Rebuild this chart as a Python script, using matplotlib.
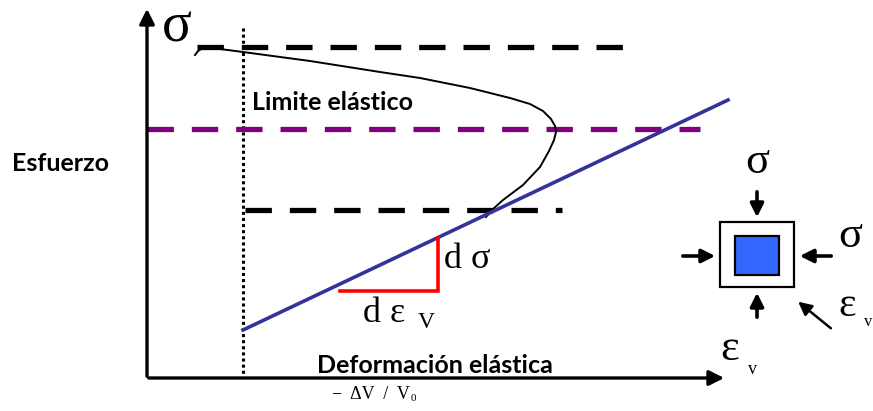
import matplotlib.pyplot as plt
from matplotlib.patches import Rectangle

# curva esfuerzo (coordenadas de la lamina, en px)
curve_x = [195, 198, 203, 212, 220, 243, 310, 380, 420, 470, 510, 530, 543, 551, 555, 556, 554, 549, 540, 523, 503, 492, 486]
curve_y = [55, 51, 48, 48, 49, 52, 61, 72, 78, 88, 98, 104, 111, 119, 126, 132, 140, 151, 167, 185, 200, 210, 217]

elastic_x = [243, 728]
elastic_y = [330, 100]

top_dash = [197, 640, 47]
mid_dash = [245, 562, 210]
purple_dash = [147, 700, 129]

tri_x = [340, 438, 438]
tri_y = [291, 291, 238]

fig = plt.figure(figsize=(8.73, 4.11), dpi=100)
ax = fig.add_axes([0, 0, 1, 1])
ax.set_xlim(0, 873)
ax.set_ylim(411, 0)
ax.axis('off')

serif = 'Liberation Serif'
bold = 'Lato'

# ejes
ax.annotate('', xy=(147, 6), xytext=(147, 379),
            arrowprops=dict(arrowstyle='-|>,head_length=0.9,head_width=0.45', lw=2.4, color='black'))
ax.annotate('', xy=(727, 378), xytext=(146, 378),
            arrowprops=dict(arrowstyle='-|>,head_length=0.9,head_width=0.45', lw=2.4, color='black'))

# lineas
ax.plot([243, 243], [28, 376], color='black', lw=2.2, linestyle=(0, (1, 1)))
ax.plot(top_dash[:2], [top_dash[2]] * 2, color='black', lw=3.8, linestyle=(0, (5, 3.4)))
ax.plot(mid_dash[:2], [mid_dash[2]] * 2, color='black', lw=3.8, linestyle=(0, (5, 3.4)))
ax.plot(purple_dash[:2], [purple_dash[2]] * 2, color='#800080', lw=3.8, linestyle=(0, (5, 3.4)))
ax.plot(curve_x, curve_y, color='black', lw=1.4, solid_joinstyle='round')
ax.plot(elastic_x, elastic_y, color='#333399', lw=2.6)
ax.plot(tri_x, tri_y, color='red', lw=2.6, solid_joinstyle='miter')

# textos
ax.text(162, 28, 'σ', fontsize=40, family=serif, va='center', ha='left')
ax.text(252, 102, 'Limite elástico', fontsize=18, family=bold, weight='bold', va='center')
ax.text(12, 163, 'Esfuerzo', fontsize=18, family=bold, weight='bold', va='center')
ax.text(435, 365, 'Deformación elástica', fontsize=18, family=bold, weight='bold', va='center', ha='center')
ax.text(410, 394, '−  ΔV  /  V', fontsize=13, family=serif, va='center', ha='right')
ax.text(411, 398, '0', fontsize=8, family=serif, va='center', ha='left')
ax.text(444, 259, 'd σ', fontsize=26, family=serif, va='center', ha='left')
ax.text(363, 313, 'd ε', fontsize=26, family=serif, va='center', ha='left')
ax.text(418, 322, 'V', fontsize=17, family=serif, va='center', ha='left')
ax.text(720, 349, 'ε', fontsize=32, family=serif, va='center', ha='left')
ax.text(748, 369, 'v', fontsize=13, family=serif, va='center', ha='left')

# elemento con esfuerzos
ax.add_patch(Rectangle((720, 222), 74, 65, facecolor='white', edgecolor='black', lw=1.6))
ax.add_patch(Rectangle((735, 236), 44, 39, facecolor='#3366FF', edgecolor='black', lw=1.6))
arr = dict(arrowstyle='-|>,head_length=0.8,head_width=0.4', lw=2.6, color='black')
ax.annotate('', xy=(757, 220), xytext=(757, 189), arrowprops=arr)
ax.annotate('', xy=(757, 290), xytext=(757, 320), arrowprops=arr)
ax.annotate('', xy=(718, 256), xytext=(680, 256), arrowprops=arr)
ax.annotate('', xy=(797, 256), xytext=(834, 256), arrowprops=arr)
ax.annotate('', xy=(796, 300), xytext=(833, 330),
            arrowprops=dict(arrowstyle='-|>,head_length=0.8,head_width=0.4', lw=1.8, color='black'))
ax.text(757, 162, 'σ', fontsize=32, family=serif, va='center', ha='center')
ax.text(838, 236, 'σ', fontsize=32, family=serif, va='center', ha='left')
ax.text(838, 306, 'ε', fontsize=30, family=serif, va='center', ha='left')
ax.text(864, 322, 'v', fontsize=12, family=serif, va='center', ha='left')

fig.savefig('out.png', dpi=100)
